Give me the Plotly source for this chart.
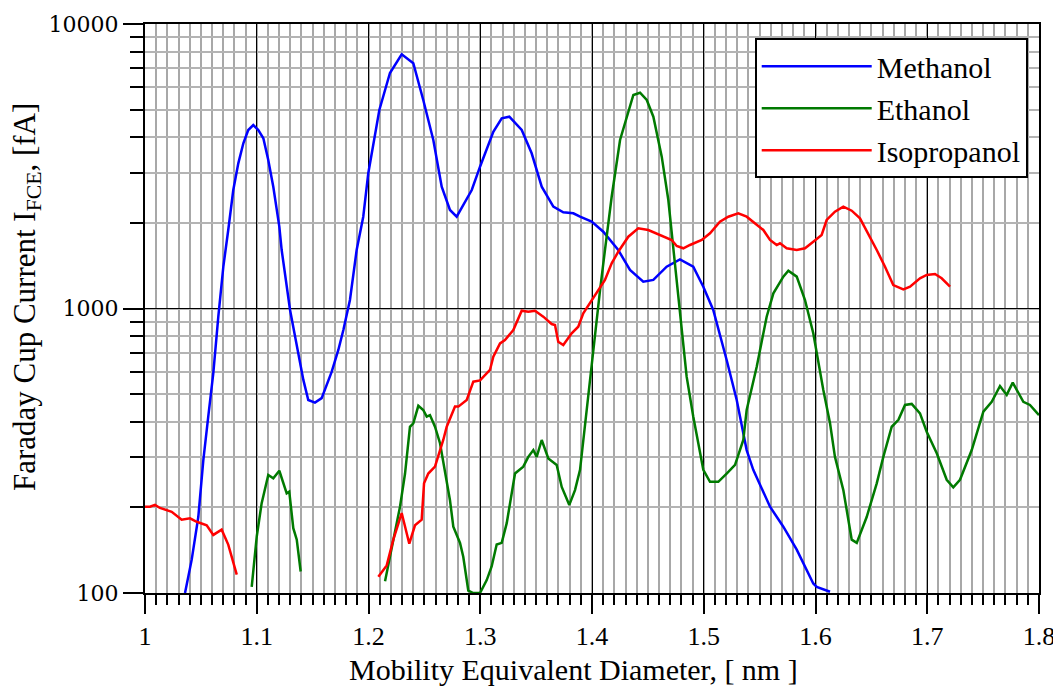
import plotly.graph_objects as go

# ---------------- data ----------------
methanol_x = [1.0358, 1.0418, 1.0477, 1.0522, 1.0566, 1.0611, 1.0656, 1.0701, 1.0745, 1.0790,
              1.0835, 1.0880, 1.0924, 1.0969, 1.1014, 1.1059, 1.1103, 1.1148, 1.1202, 1.1223,
              1.1298, 1.1358, 1.1417, 1.1461, 1.1521, 1.1581, 1.1671, 1.1730, 1.1775, 1.1834,
              1.1894, 1.1953, 1.1998, 1.2097, 1.2192, 1.2297, 1.2401, 1.2490, 1.2580, 1.2655,
              1.2729, 1.2789, 1.2924, 1.2998, 1.3117, 1.3192, 1.3260, 1.3371, 1.3460, 1.3550,
              1.3654, 1.3743, 1.3833, 1.3893, 1.3997, 1.4101, 1.4235, 1.4340, 1.4459, 1.4549,
              1.4668, 1.4787, 1.4906, 1.4996, 1.5085, 1.5205, 1.5295, 1.5384, 1.5443, 1.5593,
              1.5712, 1.5832, 1.5980, 1.6011, 1.6130]
methanol_y = [100, 131, 185, 293, 417, 592, 936, 1403, 1888, 2609,
              3238, 3808, 4241, 4416, 4241, 3965, 3327, 2680, 1939, 1605,
              988, 754, 561, 477, 467, 484, 600, 715, 840, 1071,
              1605, 2102, 2987, 4985, 6726, 7826, 7277, 5406, 3911, 2680,
              2220, 2102, 2609, 3151, 4182, 4662, 4723, 4241, 3512, 2680,
              2280, 2178, 2161, 2102, 2020, 1862, 1605, 1366, 1243, 1260,
              1403, 1489, 1403, 1193, 988, 659, 477, 318, 271, 201,
              171, 142, 108, 105, 101]

ethanol_x = [1.0955, 1.1000, 1.1044, 1.1103, 1.1148, 1.1202, 1.1268, 1.1291, 1.1327, 1.1358, 1.1393,
             None,
             1.2148, 1.2222, 1.2282, 1.2327, 1.2371, 1.2401, 1.2446, 1.2490, 1.2521, 1.2550,
             1.2595, 1.2640, 1.2685, 1.2729, 1.2759, 1.2819, 1.2848, 1.2893, 1.2938, 1.2998,
             1.3058, 1.3102, 1.3147, 1.3192, 1.3237, 1.3311, 1.3385, 1.3430, 1.3475, 1.3505,
             1.3550, 1.3609, 1.3684, 1.3729, 1.3797, 1.3848, 1.3893, 1.3922, 1.3997, 1.4072,
             1.4116, 1.4176, 1.4251, 1.4311, 1.4370, 1.4430, 1.4490, 1.4549, 1.4624, 1.4683,
             1.4728, 1.4787, 1.4847, 1.4906, 1.4966, 1.4996, 1.5056, 1.5130, 1.5205, 1.5280,
             1.5354, 1.5384, 1.5474, 1.5563, 1.5623, 1.5712, 1.5757, 1.5832, 1.5906, 1.5980,
             1.6070, 1.6130, 1.6174, 1.6249, 1.6324, 1.6369, 1.6458, 1.6548, 1.6607, 1.6682,
             1.6742, 1.6801, 1.6861, 1.6935, 1.6995, 1.7085, 1.7174, 1.7233, 1.7293, 1.7398,
             1.7502, 1.7577, 1.7651, 1.7711, 1.7765, 1.7860, 1.7919, 1.8000]
ethanol_y = [105, 158, 207, 260, 253, 269, 224, 227, 169, 154, 119,
             None,
             110, 154, 201, 263, 384, 395, 455, 440, 417, 422,
             384, 336, 263, 212, 171, 150, 134, 102, 100, 100,
             111, 124, 148, 150, 176, 263, 278, 301, 318, 301,
             345, 297, 282, 236, 204, 230, 271, 345, 624, 1161,
             1605, 2471, 3911, 4723, 5628, 5734, 5406, 4723, 3417, 2406,
             1605, 962, 576, 417, 318, 271, 246, 246, 263, 282,
             345, 440, 624, 936, 1131, 1294, 1358, 1294, 1071, 818,
             517, 395, 301, 230, 154, 150, 185, 243, 301, 384,
             406, 458, 462, 428, 369, 310, 250, 235, 250, 318,
             434, 470, 534, 497, 549, 470, 458, 422]

isopropanol_x = [1.0000, 1.0045, 1.0089, 1.0134, 1.0239, 1.0328, 1.0403, 1.0463, 1.0552, 1.0611,
                 1.0686, 1.0745, 1.0821,
                 None,
                 1.2088, 1.2163, 1.2222, 1.2297, 1.2365, 1.2416, 1.2476, 1.2497, 1.2535, 1.2595,
                 1.2669, 1.2700, 1.2774, 1.2804, 1.2879, 1.2938, 1.2998, 1.3087, 1.3117, 1.3177,
                 1.3221, 1.3296, 1.3371, 1.3430, 1.3490, 1.3564, 1.3639, 1.3669, 1.3698, 1.3743,
                 1.3818, 1.3877, 1.3922, 1.3997, 1.4056, 1.4116, 1.4176, 1.4235, 1.4325, 1.4414,
                 1.4504, 1.4579, 1.4638, 1.4713, 1.4758, 1.4817, 1.4877, 1.4982, 1.5056, 1.5145,
                 1.5220, 1.5309, 1.5384, 1.5474, 1.5533, 1.5593, 1.5653, 1.5682, 1.5742, 1.5832,
                 1.5906, 1.5980, 1.6055, 1.6100, 1.6174, 1.6249, 1.6324, 1.6398, 1.6472, 1.6548,
                 1.6622, 1.6696, 1.6786, 1.6846, 1.6935, 1.6995, 1.7069, 1.7129, 1.7204]
isopropanol_y = [201, 201, 204, 199, 193, 181, 183, 178, 173, 160,
                 167, 148, 116,
                 None,
                 114, 125, 154, 191, 149, 173, 181, 243, 263, 278,
                 345, 384, 452, 452, 477, 553, 559, 608, 677, 754,
                 775, 840, 982, 974, 982, 936, 882, 875, 764, 744,
                 818, 863, 962, 1071, 1161, 1260, 1441, 1583, 1788, 1914,
                 1888, 1838, 1788, 1741, 1658, 1628, 1672, 1741, 1838, 2020,
                 2102, 2161, 2102, 1966, 1888, 1741, 1672, 1695, 1628, 1605,
                 1628, 1717, 1813, 2047, 2189, 2280, 2207, 2075, 1838, 1605,
                 1403, 1209, 1168, 1193, 1277, 1312, 1322, 1277, 1193]

series_names = ["Methanol", "Ethanol", "Isopropanol"]
series_colors = ["#0000ff", "#007a00", "#ff0000"]

x_title = "Mobility Equivalent Diameter, [ nm ]"
y_title = "Faraday Cup Current I<sub>FCE</sub>, [fA]"
x_ticks = [1.0, 1.1, 1.2, 1.3, 1.4, 1.5, 1.6, 1.7, 1.8]
x_ticktext = ["1", "1.1", "1.2", "1.3", "1.4", "1.5", "1.6", "1.7", "1.8"]
y_ticks = [100, 1000, 10000]
y_ticktext = ["100", "1000", "10000"]

# ---------------- figure ----------------
fig = go.Figure()
for name, xs, ys, col in zip(series_names,
                             [methanol_x, ethanol_x, isopropanol_x],
                             [methanol_y, ethanol_y, isopropanol_y],
                             series_colors):
    fig.add_trace(go.Scatter(x=xs, y=ys, mode="lines", name=name,
                             line=dict(color=col, width=2.5),
                             connectgaps=False))

serif = "Liberation Serif, Times New Roman, serif"

# the page body adds an 8px margin, so the figure is 8px smaller on each leading edge
fig.update_layout(
    width=1053, height=681,
    margin=dict(l=137, r=22, t=16, b=96, autoexpand=False),
    paper_bgcolor="white", plot_bgcolor="white",
    font=dict(family=serif, color="black", size=26),
    showlegend=True,
    legend=dict(x=0.682, y=0.975, xanchor="left", yanchor="top",
                bgcolor="white", bordercolor="black", borderwidth=2,
                font=dict(family=serif, size=30, color="black"),
                itemwidth=110, tracegroupgap=0),
)

fig.update_xaxes(
    range=[1.0, 1.8], tickmode="array", tickvals=x_ticks, ticktext=x_ticktext,
    ticks="outside", ticklen=19, tickwidth=2, tickcolor="black",
    tickfont=dict(family=serif, size=26, color="black"),
    showgrid=True, gridcolor="black", gridwidth=1,
    showline=True, linecolor="black", linewidth=2, mirror=True,
    zeroline=False, automargin=False,
    minor=dict(dtick=0.01, tick0=1.0, ticks="outside", ticklen=10, tickwidth=2,
               tickcolor="black", showgrid=True, gridcolor="#a8a8a8", gridwidth=2),
)

fig.update_yaxes(
    type="log", range=[2, 4], tickmode="array", tickvals=y_ticks, ticktext=y_ticktext,
    ticks="outside", ticklen=20, tickwidth=2, tickcolor="black",
    tickfont=dict(family="DejaVu Serif", size=22, color="black"),
    showgrid=True, gridcolor="black", gridwidth=1,
    showline=True, linecolor="black", linewidth=2, mirror=True,
    zeroline=False, automargin=False,
    minor=dict(dtick="D1", ticks="outside", ticklen=13, tickwidth=2,
               tickcolor="black", showgrid=True, gridcolor="#b4b4b4", gridwidth=2),
)

fig.add_annotation(text=x_title, xref="paper", yref="paper", x=0.479, y=-0.135,
                   xanchor="center", yanchor="middle", showarrow=False, borderpad=0,
                   font=dict(family=serif, size=30, color="black"))
fig.add_annotation(text=y_title, xref="paper", yref="paper", x=-0.1320, y=0.52,
                   xanchor="center", yanchor="middle", showarrow=False, textangle=-90,
                   borderpad=0, font=dict(family=serif, size=31, color="black"))

fig.write_html("out.html")
